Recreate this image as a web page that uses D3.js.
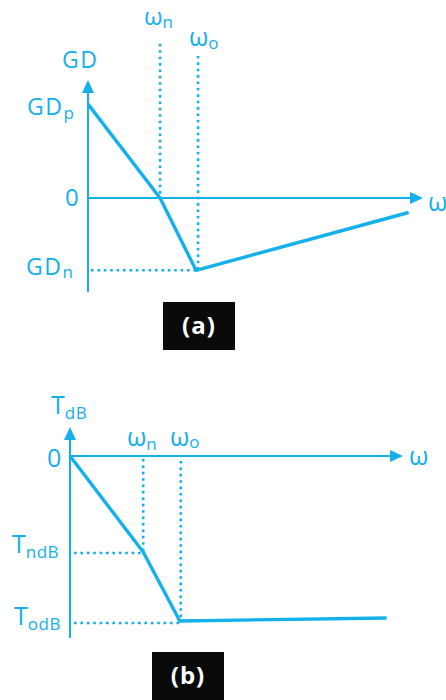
<!DOCTYPE html>
<html><head><meta charset="utf-8">
<script src="https://cdn.jsdelivr.net/npm/d3@7"></script>
<style>html,body{margin:0;padding:0;background:#fff;}svg{display:block;}</style>
</head><body>
<script>
// Panel (a): group delay
const aOmega = [0, 2, 3, 8.9];          // ω positions (0, ωn, ωo, end)
const aGD = [3.9, 0, -3, -0.6];          // GDp, 0, GDn, end
const aGuideTop = [6.4, 5.9];            // dotted guide tops at ωn, ωo
// Panel (b): magnitude in dB
const bOmega = [0, 2, 3, 8.65];
const bT = [0, -4.8, -8.25, -8.1];       // 0, TndB, TodB, end
const tickLabelsA = ["GDp", "0", "GDn"];
const tickLabelsB = ["0", "TndB", "TodB"];
const panelLabels = ["(a)", "(b)"];

const C = "#14b0ec";
const FONT = "'Open Sans', sans-serif";
const svg = d3.select("body").append("svg").attr("width", 446).attr("height", 700);

function arrowUp(g, x, yTip) {
  g.append("path").attr("d", `M${x},${yTip} L${x-6},${yTip+13} L${x+6},${yTip+13} Z`).attr("fill", C);
}
function arrowRight(g, xTip, y) {
  g.append("path").attr("d", `M${xTip},${y} L${xTip-13},${y-6} L${xTip-13},${y+6} Z`).attr("fill", C);
}
function label(g, x, y, main, sub, size, subSize, dy, ls) {
  const t = g.append("text").attr("x", x).attr("y", y).attr("fill", C)
    .attr("font-family", FONT).attr("font-size", size).attr("letter-spacing", ls || 0);
  t.append("tspan").text(main);
  if (sub) t.append("tspan").attr("font-size", subSize).attr("dy", dy).attr("letter-spacing", 0.5).text(sub);
  return t;
}
function dotted(g, x1, y1, x2, y2) {
  g.append("line").attr("x1", x1).attr("y1", y1).attr("x2", x2).attr("y2", y2)
    .attr("stroke", C).attr("stroke-width", 2.6).attr("stroke-dasharray", "2.6,3.8");
}
function badge(g, x, y, w, h, txt) {
  g.append("rect").attr("x", x).attr("y", y).attr("width", w).attr("height", h).attr("fill", "#0a0a0a");
  g.append("text").attr("x", x + w/2).attr("y", y + h/2 + 8).attr("text-anchor", "middle")
    .attr("fill", "#fff").attr("font-family", FONT).attr("font-weight", "bold").attr("font-size", 24)
    .attr("letter-spacing", 1).text(txt);
}

// ---------- Panel (a)
const ga = svg.append("g");
const xa = d3.scaleLinear().domain([0, 9.3]).range([88, 423]);
const ya = d3.scaleLinear().domain([-3.9, 4.9]).range([292, 80]);
dotted(ga, xa(aOmega[1]), ya(aGuideTop[0]), xa(aOmega[1]), ya(0));
dotted(ga, xa(aOmega[2]) + 2, ya(aGuideTop[1]), xa(aOmega[2]) + 2, ya(aGD[2]));
dotted(ga, xa(0) + 3, ya(aGD[2]), xa(aOmega[2]), ya(aGD[2]));
ga.append("line").attr("x1", xa(0)).attr("x2", xa(0)).attr("y1", ya(-3.9)).attr("y2", ya(4.9) + 10)
  .attr("stroke", C).attr("stroke-width", 2);
arrowUp(ga, xa(0), ya(4.9));
ga.append("line").attr("x1", xa(0)).attr("x2", xa(9.3) - 10).attr("y1", ya(0)).attr("y2", ya(0))
  .attr("stroke", C).attr("stroke-width", 2);
arrowRight(ga, xa(9.3), ya(0));
ga.append("path").datum(aOmega.map((w, i) => [w, aGD[i]]))
  .attr("d", d3.line().x(d => xa(d[0])).y(d => ya(d[1])))
  .attr("fill", "none").attr("stroke", C).attr("stroke-width", 3.4).attr("stroke-linejoin", "round");
label(ga, 62, 68, "GD", null, 23, 0, 0, 1.5);
label(ga, 27, 115, "GD", "p", 23, 17, 4, 1.5);
label(ga, 65, 206, tickLabelsA[1], null, 24);
label(ga, 26, 275, "GD", "n", 23, 17, 3, 1.5);
label(ga, 144, 25, "ω", "n", 24, 17, 3);
label(ga, 189, 46, "ω", "o", 25, 17, 3);
label(ga, 428, 211, "ω", null, 25);
badge(ga, 163, 302, 72, 48, panelLabels[0]);

// ---------- Panel (b)
const gb = svg.append("g");
const xb = d3.scaleLinear().domain([0, 9.1]).range([70, 403]);
const yb = d3.scaleLinear().domain([-9.1, 1.45]).range([638, 427]);
dotted(gb, xb(bOmega[1]), yb(0) + 3, xb(bOmega[1]), yb(bT[1]));
dotted(gb, xb(bOmega[2]) + 1, yb(0) + 5, xb(bOmega[2]) + 1, yb(bT[2]));
dotted(gb, xb(0) + 4, yb(bT[1]) + 1, xb(bOmega[1]), yb(bT[1]) + 1);
dotted(gb, xb(0) + 4, yb(bT[2]) + 2, xb(bOmega[2]), yb(bT[2]) + 2);
gb.append("line").attr("x1", xb(0)).attr("x2", xb(0)).attr("y1", yb(-9.1)).attr("y2", yb(1.45) + 10)
  .attr("stroke", C).attr("stroke-width", 2);
arrowUp(gb, xb(0), yb(1.45));
gb.append("line").attr("x1", xb(0)).attr("x2", xb(9.1) - 10).attr("y1", yb(0)).attr("y2", yb(0))
  .attr("stroke", C).attr("stroke-width", 2);
arrowRight(gb, xb(9.1), yb(0));
gb.append("path").datum(bOmega.map((w, i) => [w, bT[i]]))
  .attr("d", d3.line().x(d => xb(d[0])).y(d => yb(d[1])))
  .attr("fill", "none").attr("stroke", C).attr("stroke-width", 3.4).attr("stroke-linejoin", "round");
label(gb, 51, 414, "T", "dB", 25, 17, 5);
label(gb, 47, 467, tickLabelsB[0], null, 25);
label(gb, 12, 553, "T", "ndB", 25, 17, 5);
label(gb, 14, 625, "T", "odB", 25, 17, 5);
label(gb, 127, 446, "ω", "n", 25, 17, 4);
label(gb, 170, 446, "ω", "o", 25, 17, 2);
label(gb, 409, 465, "ω", null, 25);
badge(gb, 152, 652, 72, 48, panelLabels[1]);
</script>
</body></html>
